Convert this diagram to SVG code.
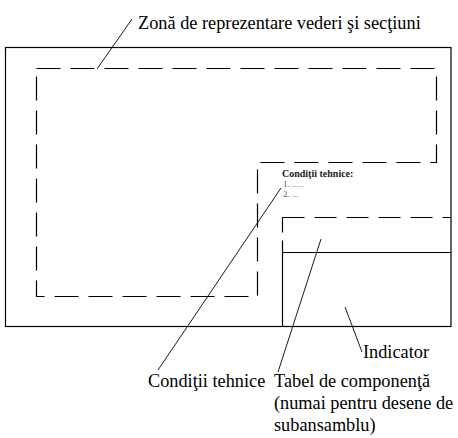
<svg xmlns="http://www.w3.org/2000/svg" width="458" height="438" viewBox="0 0 458 438">
<style>
.line{fill:none;stroke:#000;stroke-width:1.2}
.dash{fill:none;stroke:#000;stroke-width:1.2;stroke-dasharray:24 10}
.lead{fill:none;stroke:#000;stroke-width:0.9}
.lbl{font-family:"Liberation Serif","Times New Roman",serif;font-size:18.3px;fill:#000}
.small{font-family:"Liberation Serif","Times New Roman",serif;font-size:9px;fill:#555}
.smallb{font-family:"Liberation Serif","Times New Roman",serif;font-size:10px;font-weight:bold;fill:#222}
</style>
<rect width="458" height="438" fill="#fff"/>
<g id="frame">
<rect class="line" x="5.5" y="47.5" width="445.5" height="279"/>
</g>
<g id="zona-vederi">
<path class="dash" d="M36.5,68.5 H436.5 V162.5 H257.5 V296.5 H36.5 Z"/>
</g>
<g id="tabel-componenta">
<path class="dash" style="stroke-dasharray:15 8" d="M282.5,217.5 V252.5"/>
<path class="dash" style="stroke-dasharray:22 10" d="M282.5,217.5 H451"/>
</g>
<g id="indicator">
<path class="line" d="M282.5,326.5 V252.5 H451"/>
</g>
<g id="conditii-bloc">
<text class="smallb" x="282" y="177">Condiţii tehnice:</text>
<text class="small" x="283" y="187">1. .....</text>
<text class="small" x="283" y="196.5">2. ...</text>
</g>
<g id="connectors">
<line class="lead" x1="132" y1="19" x2="97" y2="69"/>
<line class="lead" x1="281" y1="188" x2="158" y2="370"/>
<line class="lead" x1="321" y1="239" x2="278" y2="372"/>
<line class="lead" x1="345" y1="307" x2="362" y2="352"/>
</g>
<g id="labels">
<text class="lbl" x="138" y="29">Zonă de reprezentare vederi şi secţiuni</text>
<text class="lbl" x="363" y="358">Indicator</text>
<text class="lbl" x="148" y="387">Condiţii tehnice</text>
<text class="lbl" x="274" y="387">Tabel de componenţă</text>
<text class="lbl" x="274" y="409">(numai pentru desene de</text>
<text class="lbl" x="274" y="431">subansamblu)</text>
</g>
</svg>
